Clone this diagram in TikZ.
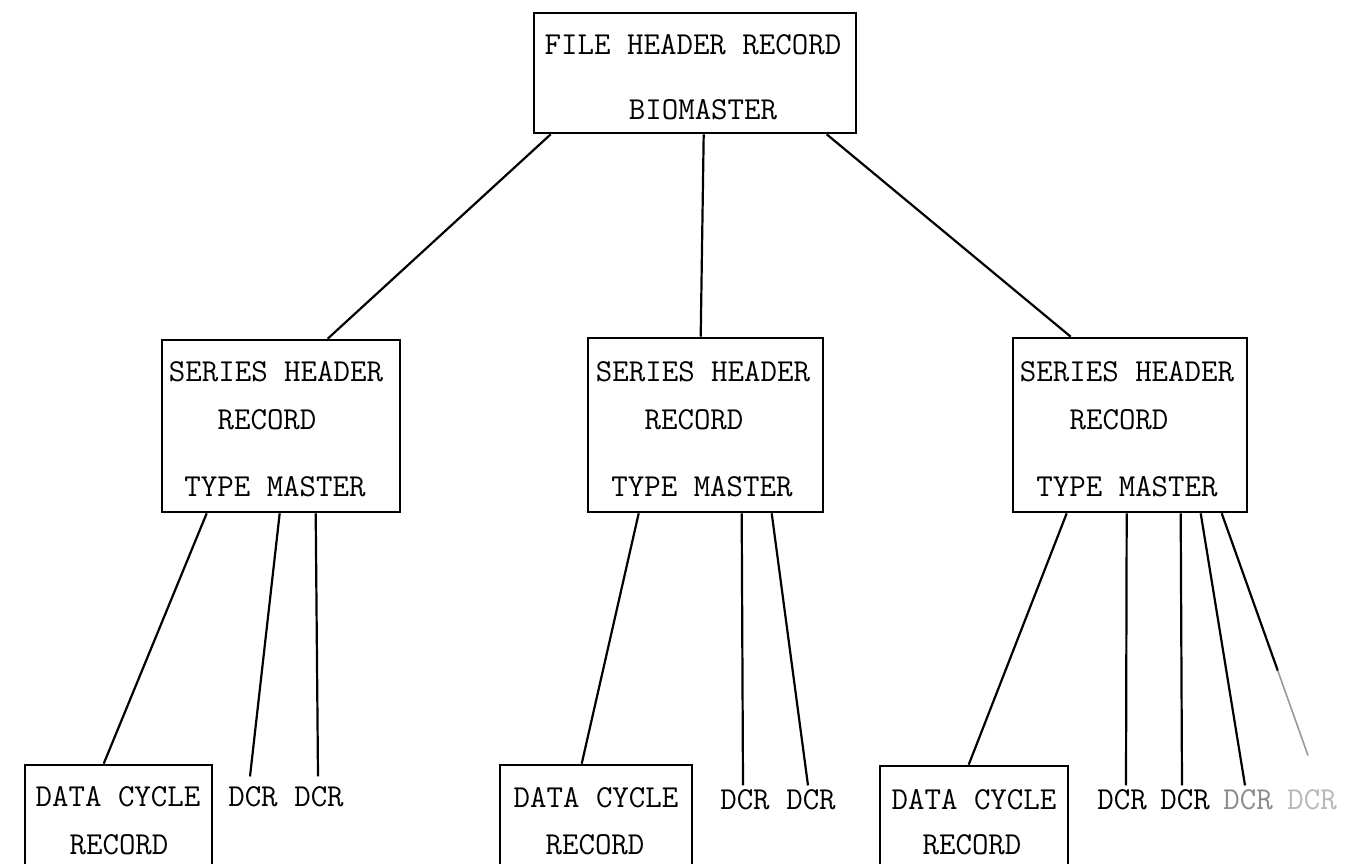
\documentclass[tikz,border=0pt]{standalone}
\usetikzlibrary{calc}
\tikzset{
  rec/.style={draw, line width=1.3pt, inner sep=0pt},
  txt/.style={font=\fontsize{16}{18}\selectfont\ttfamily, inner sep=2pt},
  link/.style={line width=1.1pt},
}
\begin{document}
\begin{tikzpicture}[x=0.5pt, y=-0.5pt]
    \useasboundingbox (0,0) rectangle (1355,863);
    \clip (0,0) rectangle (1355,863);
    % record boxes
    \node [rec, minimum width=161pt, minimum height=60pt] (fhr) at (695,73) {};
    \node [rec, minimum width=119pt, minimum height=86pt] (shr1) at (281,426) {};
    \node [rec, minimum width=117.5pt, minimum height=87pt] (shr2) at (705.5,425) {};
    \node [rec, minimum width=117pt, minimum height=87pt] (shr3) at (1130,425) {};
    \node [rec, minimum width=93.5pt, minimum height=70pt] (dcr1) at (118.5,835) {};
    \node [rec, minimum width=96pt, minimum height=70pt] (dcr2) at (596,835) {};
    \node [rec, minimum width=94pt, minimum height=70pt] (dcr3) at (974,836) {};
    % box texts
    \node [txt] (fhrA) at (693,45) {FILE HEADER RECORD};
    \node [txt] (fhrB) at (703,110) {BIOMASTER};
    \node [txt] (shr1A) at (276,372) {SERIES HEADER};
    \node [txt] (shr1B) at (267,420) {RECORD};
    \node [txt] (shr1C) at (275,487) {TYPE MASTER};
    \node [txt] (shr2A) at (703,372) {SERIES HEADER};
    \node [txt] (shr2B) at (694,420) {RECORD};
    \node [txt] (shr2C) at (702,487) {TYPE MASTER};
    \node [txt] (shr3A) at (1127,372) {SERIES HEADER};
    \node [txt] (shr3B) at (1119,420) {RECORD};
    \node [txt] (shr3C) at (1127,487) {TYPE MASTER};
    \node [txt] (dcr1A) at (118,797) {DATA CYCLE};
    \node [txt] (dcr1B) at (119,845) {RECORD};
    \node [txt] (dcr2A) at (596,798) {DATA CYCLE};
    \node [txt] (dcr2B) at (595,845) {RECORD};
    \node [txt] (dcr3A) at (974,800) {DATA CYCLE};
    \node [txt] (dcr3B) at (972,845) {RECORD};
    % short DCR labels
    \node [txt] (dA1) at (253,797) {DCR};
    \node [txt] (dA2) at (319,797) {DCR};
    \node [txt] (dB1) at (745,800) {DCR};
    \node [txt] (dB2) at (811,800) {DCR};
    \node [txt] (dC1) at (1122,800) {DCR};
    \node [txt] (dC2) at (1185,800) {DCR};
    \node [txt, black!45] (dC3) at (1248,800) {DCR};
    \node [txt, black!28] (dC4) at (1312,800) {DCR};
    % file header to series headers
    \draw [link] ([xshift=9pt]fhr.south west) -- ([xshift=83.5pt]shr1.north west);
    \draw [link] ([xshift=85.5pt]fhr.south west) -- ([xshift=57pt]shr2.north west);
    \draw [link] ([xshift=147pt]fhr.south west) -- ([xshift=29.5pt]shr3.north west);
    % first series
    \draw [link] ([xshift=23pt]shr1.south west) -- ([xshift=40pt]dcr1.north west);
    \draw [link] ([xshift=59.5pt]shr1.south west) -- ([xshift=-1.5pt,yshift=3pt]dA1.north);
    \draw [link] ([xshift=77.5pt]shr1.south west) -- ([xshift=-0.5pt,yshift=3pt]dA2.north);
    % second series
    \draw [link] ([xshift=26pt]shr2.south west) -- ([xshift=41.5pt]dcr2.north west);
    \draw [link] ([xshift=77.5pt]shr2.south west) -- ([xshift=-1pt]dB1.north);
    \draw [link] ([xshift=92.5pt]shr2.south west) -- ([xshift=-1.5pt]dB2.north);
    % third series
    \draw [link] ([xshift=27.5pt]shr3.south west) -- ([xshift=45pt]dcr3.north west);
    \draw [link] ([xshift=57.5pt]shr3.south west) -- ([xshift=2pt]dC1.north);
    \draw [link] ([xshift=84.5pt]shr3.south west) -- ([xshift=-1.5pt]dC2.north);
    \draw [link] ([xshift=94.5pt]shr3.south west) -- ([xshift=-1.5pt]dC3.north);
    \coordinate (fadeEnd) at ([xshift=-2pt,yshift=15pt]dC4.north);
    \coordinate (fadeMid) at ($([xshift=105pt]shr3.south west)!0.65!(fadeEnd)$);
    \draw [link] ([xshift=105pt]shr3.south west) -- (fadeMid);
    \draw [line width=0.8pt, black!40] (fadeMid) -- (fadeEnd);
\end{tikzpicture}
\end{document}
